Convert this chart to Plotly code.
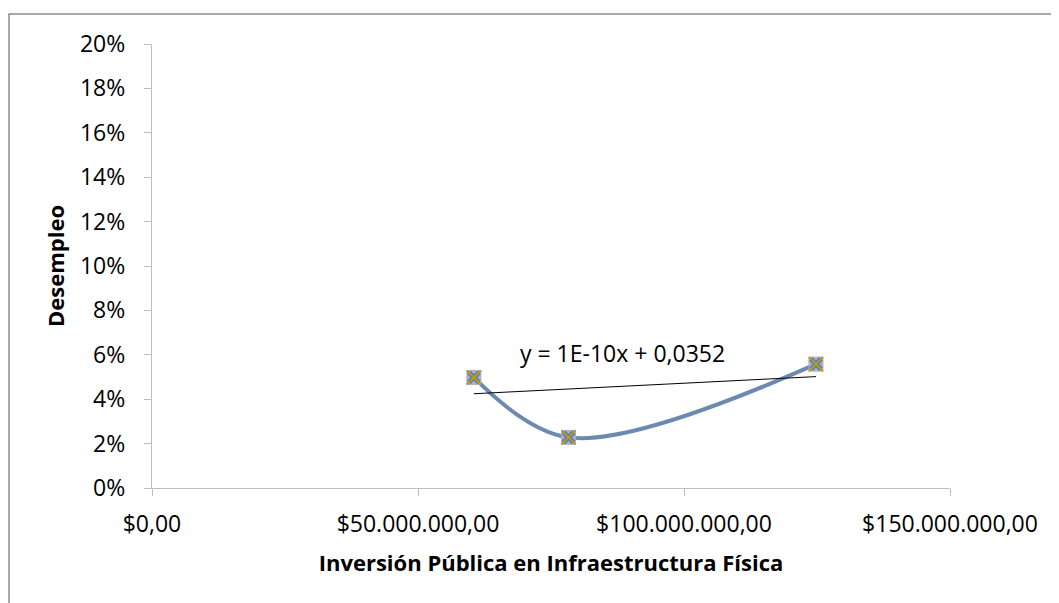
import plotly.graph_objects as go

# Data
inversion = [60.5e6, 78.3e6, 124.8e6]       # Inversión Pública en Infraestructura Física
desempleo = [0.0498, 0.0228, 0.0558]        # Desempleo
trend_slope = 1.2e-10
trend_intercept = 0.0352
trend_label = "y = 1E-10x + 0,0352"

x_tickvals = [0, 50e6, 100e6, 150e6]
x_ticktext = ["$0,00", "$50.000.000,00", "$100.000.000,00", "$150.000.000,00"]
y_tickvals = [0, 0.02, 0.04, 0.06, 0.08, 0.10, 0.12, 0.14, 0.16, 0.18, 0.20]

FONT = "'Open Sans', sans-serif"

fig = go.Figure()

# smoothed line
fig.add_trace(go.Scatter(
    x=inversion, y=desempleo, mode="lines",
    line=dict(color="#6C8AB0", width=4, shape="spline"),
    showlegend=False, hoverinfo="skip"))

# trendline
tx = [min(inversion), max(inversion)]
ty = [trend_slope * v + trend_intercept for v in tx]
fig.add_trace(go.Scatter(
    x=tx, y=ty, mode="lines",
    line=dict(color="#000000", width=1),
    showlegend=False, hoverinfo="skip"))

# layered markers
fig.add_trace(go.Scatter(
    x=inversion, y=desempleo, mode="markers",
    marker=dict(symbol="square", size=15, color="#B4AACB",
                line=dict(width=0)),
    showlegend=False))
fig.add_trace(go.Scatter(
    x=inversion, y=desempleo, mode="markers",
    marker=dict(symbol="x", size=12, color="#4F81BD",
                line=dict(width=0)),
    showlegend=False))
fig.add_trace(go.Scatter(
    x=inversion, y=desempleo, mode="markers",
    marker=dict(symbol="x-thin", size=14, color="#C09A10",
                line=dict(width=2, color="#C09A10")),
    showlegend=False))

fig.add_annotation(
    x=88.5e6, y=0.0608, xref="x", yref="y",
    text=trend_label, showarrow=False,
    font=dict(family=FONT, size=23, color="#000000"))

# outer chart border
fig.add_shape(type="rect", xref="paper", yref="paper",
              x0=-0.1792, x1=1.3, y0=-0.5, y1=1.0676,
              line=dict(color="#8C8C8C", width=1.5), fillcolor="rgba(0,0,0,0)")

fig.update_layout(
    width=1051, height=595,
    margin=dict(l=144, r=109, t=36, b=115),
    paper_bgcolor="white", plot_bgcolor="white",
    font=dict(family=FONT, size=23, color="#000000"),
    xaxis=dict(
        range=[0, 150e6], tickvals=x_tickvals, ticktext=x_ticktext,
        showgrid=False, zeroline=False, showline=True,
        linecolor="#BFBFBF", linewidth=1.3,
        ticks="outside", ticklen=7, tickcolor="#BFBFBF",
        ticklabelstandoff=8,
        title=dict(text="<b>Inversión Pública en Infraestructura Física</b>",
                   font=dict(size=22), standoff=17),
    ),
    yaxis=dict(
        range=[0, 0.2], tickvals=y_tickvals, tickformat=".0%",
        showgrid=False, zeroline=False, showline=True,
        linecolor="#BFBFBF", linewidth=1.3,
        ticks="outside", ticklen=7, tickcolor="#BFBFBF",
        ticklabelstandoff=14,
        title=dict(text="<b>Desempleo</b>", font=dict(size=22), standoff=9),
    ),
)

fig.write_html("out.html")
